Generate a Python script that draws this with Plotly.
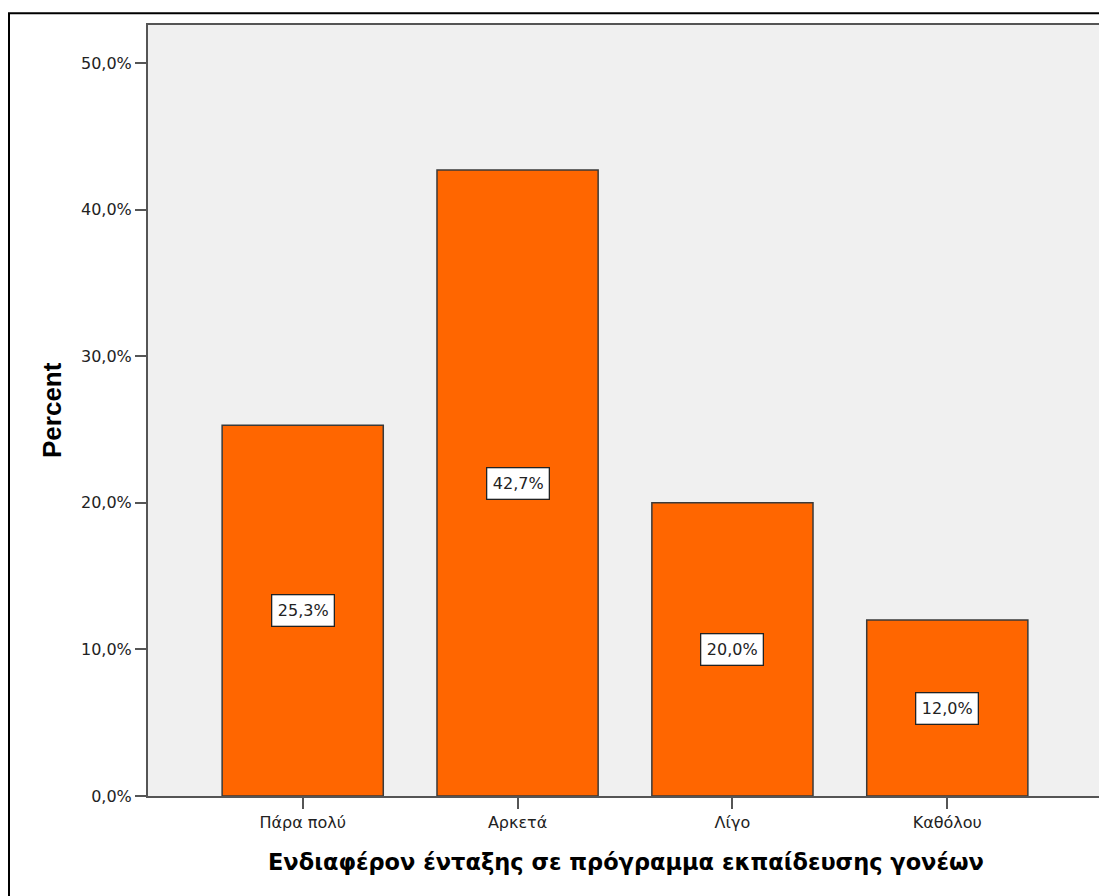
import plotly.graph_objects as go

categories = ["Πάρα πολύ", "Αρκετά", "Λίγο", "Καθόλου"]
percent = [25.3, 42.7, 20.0, 12.0]
label_text = ["25,3%", "42,7%", "20,0%", "12,0%"]
y_tick_vals = [0, 10, 20, 30, 40, 50]
y_tick_text = ["0,0%", "10,0%", "20,0%", "30,0%", "40,0%", "50,0%"]
x_title = "Ενδιαφέρον ένταξης σε πρόγραμμα εκπαίδευσης γονέων"
y_title = "Percent"

W, H = 1107, 896
# plot area in figure pixels (page has an 8px body margin)
L, R, T, B = 140, 1094, 17, 788
pw, ph = R - L, B - T

TICKFONT = "DejaVu Sans, Verdana, sans-serif"

fig = go.Figure()
fig.add_trace(go.Bar(
    x=list(range(len(categories))), y=percent, width=0.75,
    marker=dict(color="#FF6600", line=dict(color="#3a3a3a", width=1.5)),
    hoverinfo="skip",
))

for i, (v, t) in enumerate(zip(percent, label_text)):
    fig.add_annotation(x=i, y=v / 2, xref="x", yref="y", text=t, showarrow=False,
                       xanchor="center", yanchor="middle",
                       font=dict(family=TICKFONT, size=16, color="#222"),
                       bgcolor="white", bordercolor="#222", borderwidth=1.3, borderpad=5.5)

# outer frame
fig.add_shape(type="rect", xref="paper", yref="paper",
              x0=(1 - L) / pw, x1=(W + 30 - L) / pw,
              y0=(B - (H + 30)) / ph, y1=(B - 5.3) / ph,
              line=dict(color="black", width=2), fillcolor="rgba(0,0,0,0)", layer="below")

fig.add_annotation(xref="paper", yref="paper", x=(617.5 - L) / pw, y=(B - 854) / ph,
                   xanchor="center", yanchor="middle",
                   text="<b>" + x_title + "</b>", showarrow=False,
                   font=dict(family="DejaVu Sans", size=22.5, color="black"))
fig.add_annotation(xref="paper", yref="paper", x=(44 - L) / pw, y=(B - 402) / ph,
                   xanchor="center", yanchor="middle",
                   text="<b>" + y_title + "</b>", showarrow=False, textangle=-90,
                   font=dict(family="Liberation Sans, Arial", size=26, color="black"))

fig.update_layout(
    width=W, height=H,
    margin=dict(l=L, r=W - R, t=T, b=H - B),
    paper_bgcolor="white", plot_bgcolor="#F0F0F0",
    showlegend=False,
    font=dict(family=TICKFONT, size=16, color="#222"),
)
fig.update_xaxes(range=[-0.72, 3.72], tickmode="array",
                 tickvals=list(range(len(categories))), ticktext=categories,
                 showgrid=False, zeroline=False, showline=True, mirror=True,
                 linecolor="#555", linewidth=2, ticks="outside", ticklen=11,
                 tickcolor="#555", tickwidth=2, tickfont=dict(size=16))
fig.update_yaxes(range=[0, 52.6], tickmode="array", tickvals=y_tick_vals,
                 ticktext=y_tick_text, showgrid=False, zeroline=False,
                 showline=True, mirror=True, linecolor="#555", linewidth=2,
                 ticks="outside", ticklen=11, tickcolor="#555", tickwidth=2,
                 tickfont=dict(size=16))

fig.write_html("out.html")
